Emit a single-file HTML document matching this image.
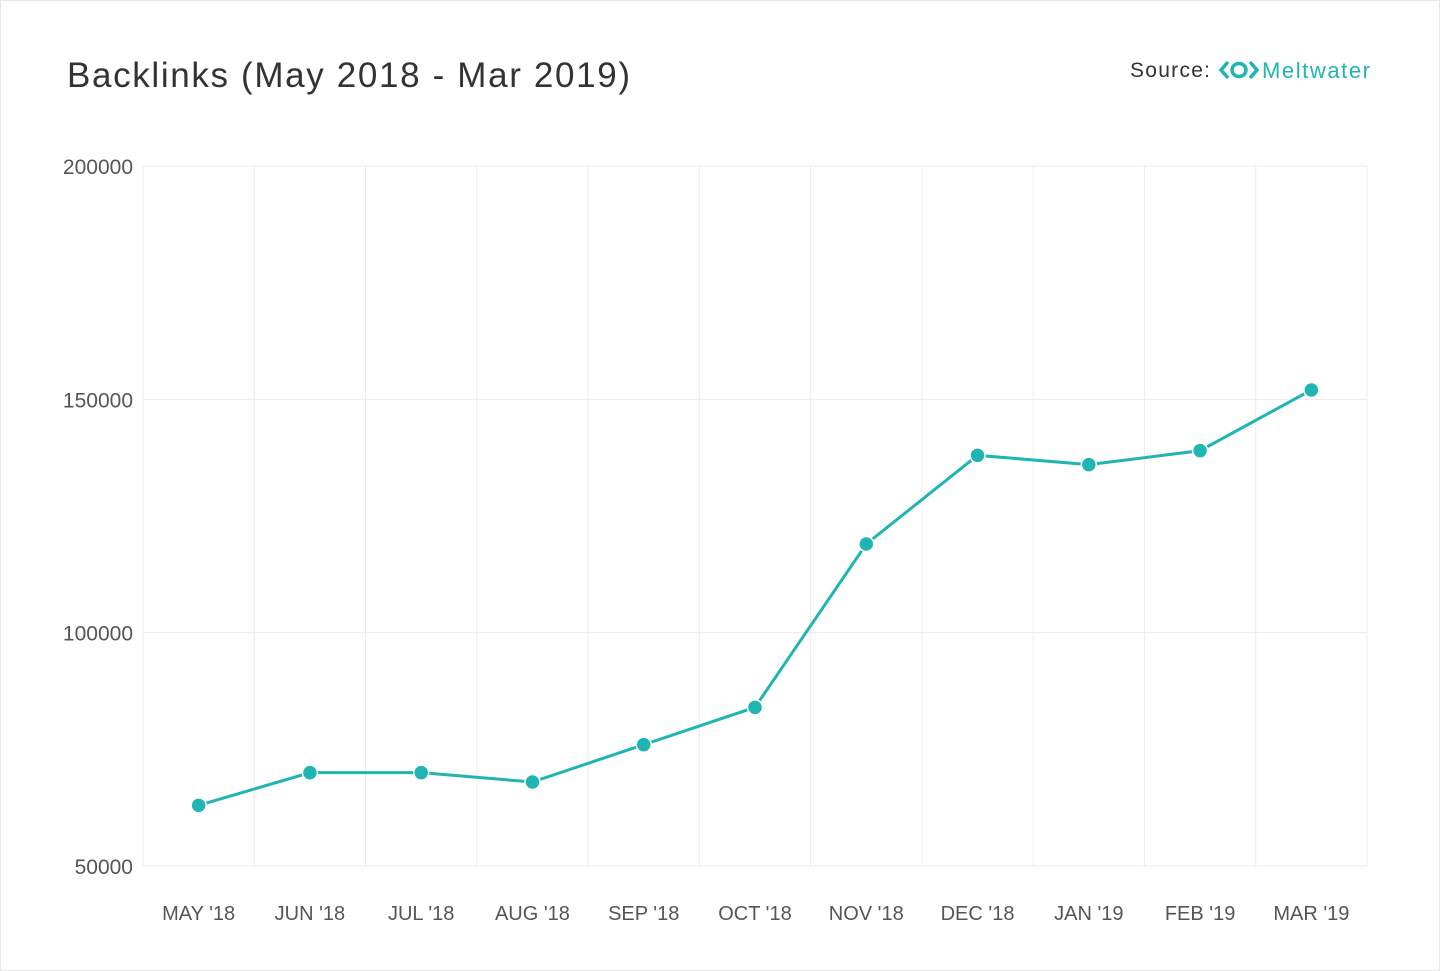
<!DOCTYPE html>
<html><head><meta charset="utf-8"><style>
body{margin:0;width:1440px;height:971px;background:#fff;font-family:"Liberation Sans",sans-serif;overflow:hidden}
.frame{position:absolute;left:0;top:0;width:1438px;height:969px;border:1px solid #e8e8e8}
</style></head><body>
<div class="frame"></div>
<svg id="c" width="1440" height="971" style="position:absolute;left:0;top:0">
<text x="67" y="87" font-size="35" fill="#333" textLength="563" lengthAdjust="spacing">Backlinks (May 2018 - Mar 2019)</text>
<text x="1130" y="77" font-size="21" fill="#333" textLength="80" lengthAdjust="spacing">Source:</text>
<g stroke="#1fb5b3" stroke-width="3.5" fill="none">
<polyline points="1228,62 1221,70 1228,78"/><ellipse cx="1239" cy="70" rx="7" ry="6.5"/><polyline points="1250,62 1257,70 1250,78"/>
</g>
<text x="1262" y="78" font-size="22" fill="#1fb5b3" textLength="108" lengthAdjust="spacing">Meltwater</text>
<g id="grid"></g><g id="axes"></g><g id="series"></g>
</svg>
<script>
const categories=["MAY '18","JUN '18","JUL '18","AUG '18","SEP '18","OCT '18","NOV '18","DEC '18","JAN '19","FEB '19","MAR '19"];
const backlinks=[63000,70000,70000,68000,76000,84000,119000,138000,136000,139000,152000];
const yTicks=[50000,100000,150000,200000];
const NS="http://www.w3.org/2000/svg";
const L=143,R=1367,T=166,B=866,yMin=50000,yMax=200000;
const bw=(R-L)/categories.length;
const x=i=>L+bw*(i+0.5);
const y=v=>B-(v-yMin)/(yMax-yMin)*(B-T);
function mk(t,a,p){const e=document.createElementNS(NS,t);for(const k in a)e.setAttribute(k,a[k]);p.appendChild(e);return e;}
const grid=document.getElementById('grid'),axes=document.getElementById('axes'),ser=document.getElementById('series');
yTicks.forEach(v=>{
 const l=mk('line',{x1:L,x2:R,y1:y(v),y2:y(v),stroke:'#ececec','stroke-width':1},grid);
 
 
 const t=mk('text',{x:133,y:y(v)+8,'text-anchor':'end','font-size':21,fill:'#555'},axes);
 t.textContent=v;
 
 
});
for(let i=0;i<=categories.length;i++){
 const l=mk('line',{x1:L+bw*i,x2:L+bw*i,y1:T,y2:B,stroke:'#ececec','stroke-width':1},grid);
 
 
}
categories.forEach((c,i)=>{
 const t=mk('text',{x:x(i),y:920,'text-anchor':'middle','font-size':20,fill:'#555'},axes);
 t.textContent=c;
 
 
});
const line=mk('polyline',{points:backlinks.map((v,i)=>x(i)+','+y(v)).join(' '),fill:'none',stroke:'#1fb5b3','stroke-width':3},ser);


backlinks.forEach((v,i)=>{
 const p=mk('circle',{cx:x(i),cy:y(v),r:7.5,fill:'#1fb5b3',stroke:'#fff','stroke-width':1.5},ser);
 
 
});
</script>
</body></html>
